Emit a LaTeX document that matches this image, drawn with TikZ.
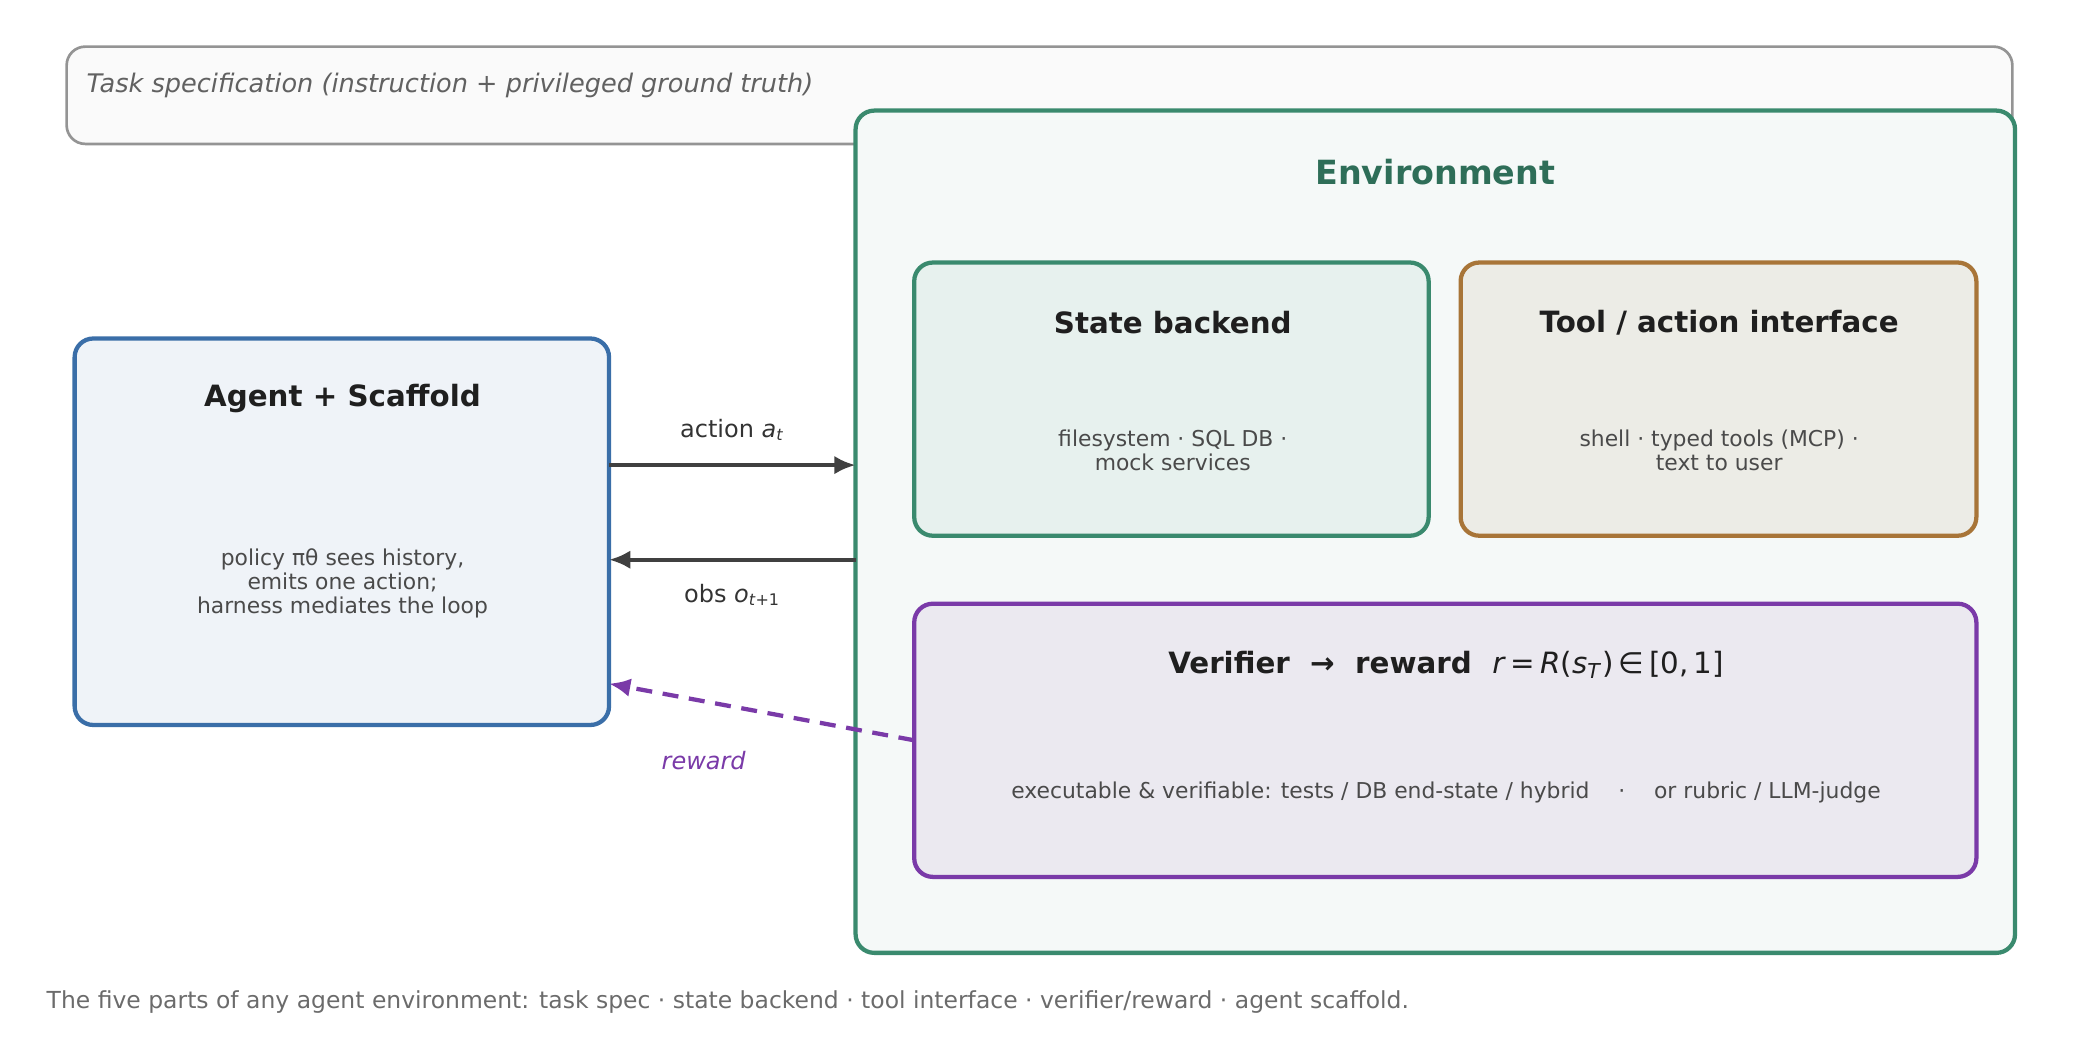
\documentclass[tikz,border=0pt]{standalone}
\usepackage{fontspec}
\setmainfont{DejaVu Sans}
\usetikzlibrary{positioning,arrows.meta}
\definecolor{envgreen}{HTML}{3A8A6E}
\definecolor{envtitle}{HTML}{2E6E58}
\definecolor{agentblue}{HTML}{3A6EA8}
\definecolor{toolbrown}{HTML}{A87538}
\definecolor{verpurple}{HTML}{7A3AA8}
\definecolor{txtgray}{HTML}{4A4A4A}
\newcommand{\sym}[1]{\textit{#1}}
\tikzset{
  box/.style={draw, rounded corners=7pt, line width=1.6pt, anchor=north west, inner sep=0pt, outer sep=0pt},
  ttl/.style={font=\fontsize{11}{13}\selectfont\bfseries, text=black!88},
  body/.style={font=\fontsize{8.2}{9}\selectfont, text=txtgray, align=center},
  arr/.style={-{Latex[length=8pt,width=7pt]}, line width=1.6pt, draw=black!75},
}
\begin{document}
\begin{tikzpicture}[x=0.5pt,y=0.5pt,yscale=-1]
\useasboundingbox (0,0) rectangle (1560,795);

% task spec
\node[box, draw=black!42, fill=black!2, line width=1pt, minimum width=730pt, minimum height=36.5pt] (task) at (50,35) {};
\node[anchor=west, font=\fontsize{9.6}{11}\selectfont\itshape, text=black!62] (tasklbl) at (58,64) {Task specification (instruction + privileged ground truth)};

% environment
\node[box, draw=envgreen, fill=envgreen!5, minimum width=435pt, minimum height=316pt] (env) at (642,83) {};
\node[font=\fontsize{12.5}{14}\selectfont\bfseries, text=envtitle] (envlbl) at (1077,129) {Environment};

\node[box, draw=envgreen, fill=envgreen!12, minimum width=193pt, minimum height=102.5pt] (state) at (686,197) {};
\node[ttl] (statettl) at (880,242) {State backend};
\node[body] (statetxt) at (880,338) {filesystem · SQL DB ·\\mock services};

\node[box, draw=toolbrown, fill={rgb,255:red,236;green,236;blue,230}, minimum width=193.5pt, minimum height=102.5pt] (tool) at (1096,197) {};
\node[ttl] (toolttl) at (1290,242) {Tool / action interface};
\node[body] (tooltxt) at (1290,338) {shell · typed tools (MCP) ·\\text to user};

\node[box, draw=verpurple, fill={rgb,255:red,235;green,233;blue,240}, minimum width=398.5pt, minimum height=102.5pt] (ver) at (686,453) {};
\node[ttl] (verttl) at (1085,499) {Verifier \ → \ reward \ \mdseries\sym{r}\,=\,\sym{R}(\sym{s}\textsubscript{\sym{T}})\,∈\,[0,\,1]};
\node[body] (vertxt) at (1085,595) {executable \& verifiable: tests / DB end-state / hybrid \quad · \quad or rubric / LLM-judge};

% agent
\node[box, draw=agentblue, fill=agentblue!8, minimum width=200.5pt, minimum height=145pt] (agent) at (56,254) {};
\node[ttl] (agentttl) at (257,299) {Agent + Scaffold};
\node[body] (agenttxt) at (257,438) {policy πθ sees history,\\emits one action;\\harness mediates the loop};

% loop
\draw[arr] ([yshift=-25pt]agent.east) -- ([yshift=-25pt]agent.east -| env.west)
  node[midway, above=5pt, font=\fontsize{9}{11}\selectfont, text=black!80] {action \sym{a}\textsubscript{\sym{t}}};
\draw[arr] ([yshift=10.5pt]agent.east -| env.west) -- ([yshift=10.5pt]agent.east)
  node[midway, below=5pt, font=\fontsize{9}{11}\selectfont, text=black!80] {obs \sym{o}\textsubscript{\sym{t}+1}};
\draw[arr, draw=verpurple, dash pattern=on 6pt off 4pt] (ver.west) -- ([yshift=-15.5pt]agent.south east);
\node[font=\fontsize{9}{11}\selectfont\itshape, text=verpurple] (rewlbl) at (528,571) {reward};

% caption
\node[anchor=west, font=\fontsize{8.8}{10}\selectfont, text=black!58] (cap) at (28,752) {The five parts of any agent environment: task spec · state backend · tool interface · verifier/reward · agent scaffold.};
\end{tikzpicture}
\end{document}
